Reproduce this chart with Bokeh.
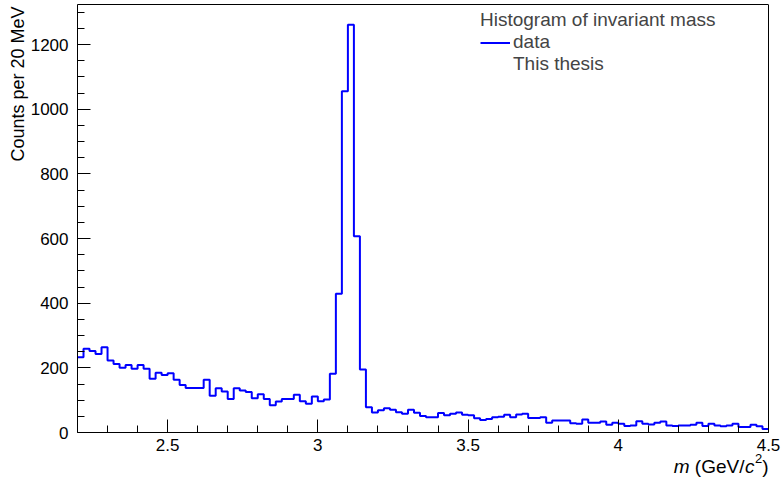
import numpy as np
from bokeh.plotting import figure
from bokeh.models import (Range1d, SingleIntervalTicker, CustomJSTickFormatter,
                          Label, Legend, LegendItem, Title, LinearAxis, FixedTicker)
from bokeh.embed import file_html
from bokeh.resources import INLINE

# ---- data ----
bin_low = 2.2
bin_width = 0.02
counts = [
    233, 259, 252, 243, 264, 223, 212, 200, 209, 197,
    209, 197, 166, 185, 178, 183, 163, 147, 138, 138,
    138, 163, 114, 137, 127, 104, 137, 130, 125, 106,
    118, 104, 84, 96, 104, 104, 117, 97, 89, 111,
    97, 102, 182, 429, 1056, 1261, 607, 195, 78, 62,
    69, 75, 70, 63, 58, 70, 61, 51, 47, 47,
    60, 53, 58, 62, 55, 53, 44, 39, 42, 47,
    49, 55, 47, 56, 58, 45, 45, 47, 30, 37,
    37, 37, 29, 27, 40, 30, 30, 34, 24, 30,
    27, 20, 22, 35, 27, 25, 30, 34, 22, 20,
    22, 22, 24, 30, 20, 27, 22, 19, 22, 27,
    17, 17, 24, 19, 11,
]
x_min, x_max = 2.2, 4.5
y_min, y_max = 0, 1324
legend_title = "Histogram of invariant mass"
series_label = "data"
extra_label = "This thesis"
y_title = "Counts per 20 MeV"

FONT = "Liberation Sans"
BLUE = "#0000ff"

# layout (pixels)
W, H = 781, 479
LEFT, RIGHT, TOP, AXIS_Y = 77, 768, 4, 432      # box of the histogram
plot_h = AXIS_Y - TOP
plot_w = RIGHT - LEFT
# the Bokeh frame is extended to the canvas bottom/right so texts there are not clipped
y_lo = y_min - (y_max - y_min) * (H - AXIS_Y) / plot_h
x_hi = x_max + (x_max - x_min) * (W - RIGHT) / plot_w

edges = bin_low + bin_width * np.arange(len(counts) + 1)
step_y = np.append(np.array(counts, dtype=float), counts[-1])

p = figure(width=W, height=H, output_backend="svg", toolbar_location=None,
           x_range=Range1d(x_min, x_hi), y_range=Range1d(y_lo, y_max),
           min_border_left=LEFT, min_border_right=0, min_border_top=TOP,
           min_border_bottom=0)
p.background_fill_color = "white"
p.border_fill_color = "white"
p.outline_line_color = None
p.xgrid.visible = False
p.ygrid.visible = False

hist = p.step(x=edges, y=step_y, mode="after", line_color=BLUE, line_width=2)
dummy = p.line(x=[x_min, x_min], y=[0, 0], line_alpha=0)

# axes
xa = p.xaxis[0]
xa.fixed_location = y_min
xa.bounds = (x_min, x_max)
xa.ticker = SingleIntervalTicker(interval=0.5, num_minor_ticks=5)
xa.formatter = CustomJSTickFormatter(code="return String(Math.round(tick*10)/10)")
ya = p.yaxis[0]
ya.bounds = (y_min, y_max)
ya.ticker = SingleIntervalTicker(interval=200, num_minor_ticks=4)
for ax in (xa, ya):
    ax.major_tick_in = 13
    ax.major_tick_out = 0
    ax.minor_tick_in = 7
    ax.minor_tick_out = 0
    ax.axis_line_color = "black"
    ax.major_tick_line_color = "black"
    ax.minor_tick_line_color = "black"
    ax.major_label_text_font = FONT
    ax.major_label_text_font_size = "17px"
    ax.major_label_text_color = "black"
xa.major_label_standoff = 6
ya.major_label_standoff = 9

# box: top and right edges (no ticks)
top_ax = LinearAxis(ticker=FixedTicker(ticks=[]), major_tick_out=0, minor_tick_out=0,
                    major_tick_in=0, minor_tick_in=0, axis_line_color="black",
                    bounds=(x_min, x_max))
right_ax = LinearAxis(ticker=FixedTicker(ticks=[]), major_tick_out=0, minor_tick_out=0,
                      major_tick_in=0, minor_tick_in=0, axis_line_color="black",
                      bounds=(y_min, y_max), fixed_location=x_max)
p.add_layout(top_ax, "above")
p.add_layout(right_ax, "right")

# y title (top aligned, ROOT style)
yt = Title(text=y_title, align="right", text_font=FONT, text_font_size="18px",
           text_font_style="normal", text_color="black", standoff=0, offset=2)
p.add_layout(yt, "left")

# x title  "m (GeV/c^2)" right aligned at the box edge (canvas coordinates)
fs = 19
parts = [("m", "italic", fs, 0.833 * fs + 0.278 * fs, 0),
         ("(GeV/", "normal", fs, 2.612 * fs + 0.5, 0),
         ("c", "italic", fs, 0.5 * fs + 0.5, 0),
         ("2", "normal", 13, 0.556 * 13, -8),
         (")", "normal", fs, 0.333 * fs, 0)]
total = sum(w for _, _, _, w, _ in parts)
xcur = RIGHT - total
for txt, style, size, w, dy in parts:
    p.add_layout(Label(x=xcur, y=466 + dy, x_units="canvas", y_units="canvas",
                       text=txt, text_align="left", text_baseline="middle",
                       text_font=FONT, text_font_style=style,
                       text_font_size=f"{size}px", text_color="black"))
    xcur += w

legend = Legend(items=[LegendItem(label=series_label, renderers=[hist]),
                       LegendItem(label=extra_label, renderers=[dummy])],
                location=(403, 357 + (H - AXIS_Y)), title=legend_title)
legend.title_text_font = FONT
legend.title_text_font_size = "19px"
legend.title_text_font_style = "normal"
legend.title_standoff = 0
legend.label_text_font = FONT
legend.label_text_font_size = "19px"
legend.glyph_width = 30
legend.glyph_height = 21
legend.label_height = 21
legend.label_standoff = 3
legend.spacing = 0
legend.padding = 0
legend.margin = 0
legend.border_line_alpha = 0
legend.background_fill_alpha = 0
p.add_layout(legend)

open("out.html", "w").write(file_html(p, INLINE))
